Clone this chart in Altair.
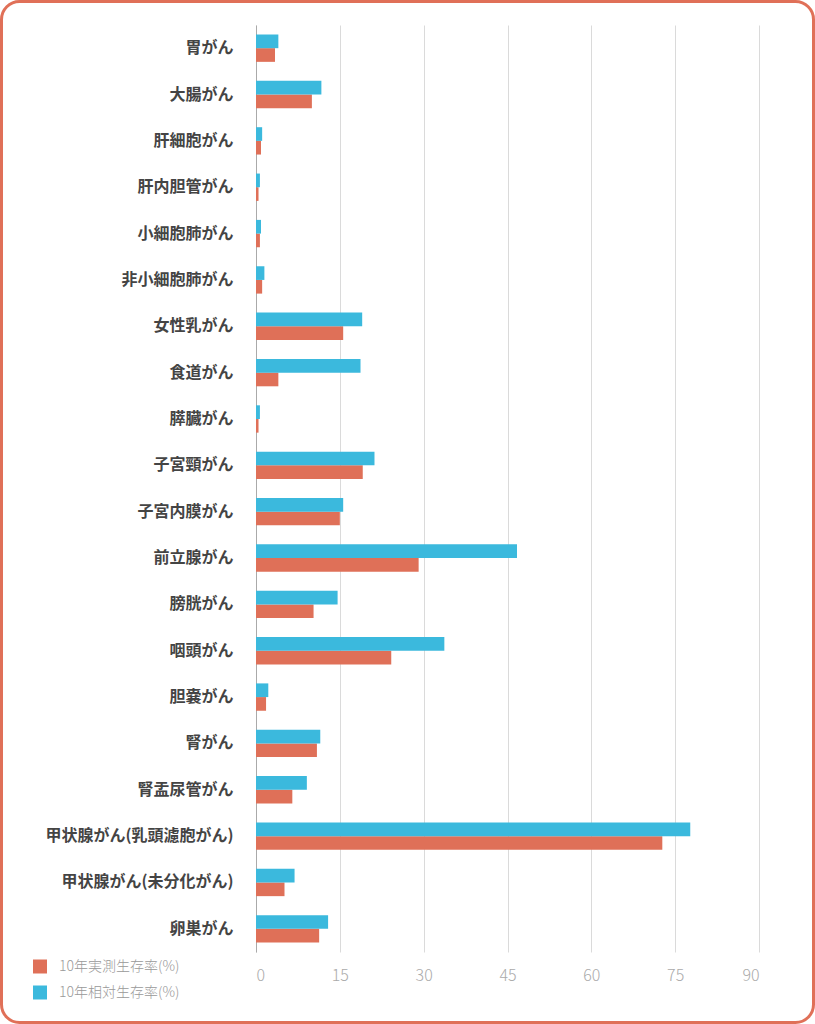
import altair as alt
import pandas as pd

categories = ["胃がん", "大腸がん", "肝細胞がん", "肝内胆管がん", "小細胞肺がん", "非小細胞肺がん",
              "女性乳がん", "食道がん", "膵臓がん", "子宮頸がん", "子宮内膜がん", "前立腺がん",
              "膀胱がん", "咽頭がん", "胆嚢がん", "腎がん", "腎盂尿管がん",
              "甲状腺がん(乳頭濾胞がん)", "甲状腺がん(未分化がん)", "卵巣がん"]
actual = [3.4, 10.0, 0.9, 0.45, 0.7, 1.1, 15.6, 4.0, 0.45, 19.1, 15.0, 29.1,
          10.3, 24.2, 1.8, 10.9, 6.5, 72.7, 5.1, 11.3]
relative = [4.0, 11.7, 1.1, 0.7, 0.9, 1.5, 19.0, 18.7, 0.7, 21.2, 15.6, 46.7,
            14.6, 33.7, 2.2, 11.5, 9.1, 77.7, 6.9, 12.9]
series = ["10年実測生存率(%)", "10年相対生存率(%)"]
colors = ["#DF7058", "#3BB9DD"]
x_ticks = [0, 15, 30, 45, 60, 75, 90]

rows = []
for c, a, r in zip(categories, actual, relative):
    rows.append({"cat": c, "series": series[0], "value": a})
    rows.append({"cat": c, "series": series[1], "value": r})
df = pd.DataFrame(rows)

FONT = "Noto Sans CJK JP"

bars = alt.Chart(df).mark_bar().encode(
    y=alt.Y("cat:N", sort=categories, title=None,
            scale=alt.Scale(paddingInner=0.41, paddingOuter=0.205),
            axis=alt.Axis(ticks=False, labelPadding=23, labelFontSize=16, labelLimit=0,
                          labelFontWeight="bold", labelColor="#444444", labelFont=FONT,
                          domainColor="#aaaaaa", domainWidth=1, grid=False)),
    yOffset=alt.YOffset("series:N", sort=[series[1], series[0]],
                        scale=alt.Scale(paddingInner=0, paddingOuter=0)),
    x=alt.X("value:Q", title=None,
            scale=alt.Scale(domain=[0, 90], nice=False),
            axis=alt.Axis(values=x_ticks, domain=False, ticks=False, grid=True,
                          gridColor="#dadada", gridWidth=1, labelFontSize=16,
                          labelColor="#aaaaaa", labelFont=FONT, labelFontWeight=300,
                          labelPadding=15)),
    color=alt.Color("series:N", sort=series,
                    scale=alt.Scale(domain=series, range=colors),
                    legend=alt.Legend(title=None, orient="none", legendX=-223, legendY=934.5,
                                      symbolType="square", symbolSize=196, symbolStrokeWidth=0,
                                      labelFontSize=14, labelColor="#999999", labelFont=FONT,
                                      labelFontWeight=300, labelOffset=12, rowPadding=12,
                                      padding=0, direction="vertical")),
)

border = alt.Chart(pd.DataFrame({"k": [0]})).mark_rect(
    fill=None, stroke="#E07058", strokeWidth=3, cornerRadius=18
).encode(
    x=alt.value(-254.5), x2=alt.value(557.5),
    y=alt.value(-23.5), y2=alt.value(997.5),
)

chart = alt.layer(border, bars).properties(
    width=503, height=927,
    autosize=alt.AutoSizeParams(type="none"),
    padding={"left": 256, "top": 25, "right": 56, "bottom": 72},
    background="white",
).configure_view(stroke=None)

chart.save("out.html", embed_options={"renderer": "svg", "actions": False})
